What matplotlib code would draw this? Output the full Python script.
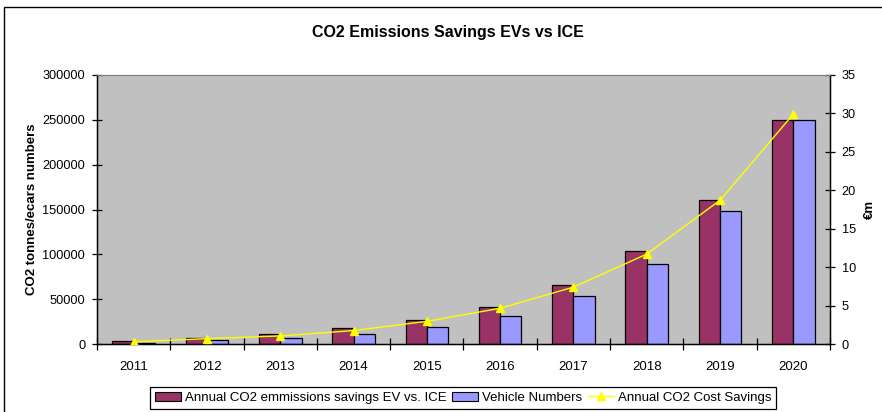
import matplotlib.pyplot as plt
import numpy as np
from matplotlib.patches import Rectangle
from matplotlib.lines import Line2D

plt.rcParams['font.family'] = ['Liberation Sans', 'DejaVu Sans']

years = ["2011", "2012", "2013", "2014", "2015", "2016", "2017", "2018", "2019", "2020"]
co2_savings = [3000, 6700, 10800, 17500, 26500, 41700, 65600, 103200, 161000, 250000]
vehicles = [1100, 4500, 6700, 11600, 19400, 31700, 53300, 88700, 148700, 250000]
cost_savings = [0.3, 0.7, 1.05, 1.75, 2.95, 4.65, 7.4, 11.7, 18.7, 29.9]

red = "#993366"
blue = "#9999FF"
yellow = "#FFFF00"

fig = plt.figure(figsize=(8.82, 4.12), dpi=100)
ax = fig.add_axes([0.110, 0.165, 0.831, 0.653])
ax.set_facecolor("#C0C0C0")

x = np.arange(len(years))
w = 0.29
ax.bar(x - w / 2, co2_savings, w, color=red, edgecolor="black", linewidth=0.9, zorder=2)
ax.bar(x + w / 2, vehicles, w, color=blue, edgecolor="black", linewidth=0.9, zorder=2)
ax.set_xlim(-0.5, len(years) - 0.5)
ax.set_ylim(0, 300000)
ax.set_yticks(range(0, 300001, 50000))
ax.set_ylabel("CO2 tonnes/ecars numbers", fontsize=9.5, fontweight="bold", labelpad=3)

ax.set_xticks(x)
ax.set_xticklabels(years)
ax.set_xticks(np.arange(-0.5, len(years)), minor=True)
ax.tick_params(axis="x", which="major", length=0, labelsize=9.5, pad=12)
ax.tick_params(axis="x", which="minor", direction="inout", length=8, width=0.9)
ax.tick_params(axis="y", direction="inout", length=7, labelsize=9.2, width=0.9, pad=5)

for side in ["left", "bottom", "right"]:
    ax.spines[side].set_color("black")
    ax.spines[side].set_linewidth(1.0)
ax.spines["top"].set_color("#808080")

ax2 = ax.twinx()
ax2.plot(x, cost_savings, color=yellow, marker="^", markersize=6, linewidth=1.0, zorder=3)
ax2.set_ylim(0, 35)
ax2.set_yticks(range(0, 36, 5))
ax2.tick_params(axis="y", direction="inout", length=7, labelsize=9.2, width=0.9, pad=5)
ax2.set_ylabel("€m", fontsize=9.5, fontweight="bold", labelpad=6)
ax2.spines["right"].set_color("black")
ax2.spines["top"].set_color("#808080")

fig.text(0.508, 0.92, "CO2 Emissions Savings EVs vs ICE", ha="center", va="center",
         fontsize=11.5, fontweight="bold")

handles = [
    Rectangle((0, 0), 1, 1, facecolor=red, edgecolor="black", linewidth=0.8),
    Rectangle((0, 0), 1, 1, facecolor=blue, edgecolor="black", linewidth=0.8),
    Line2D([], [], color=yellow, marker="^", markersize=6, linewidth=1.0),
]
labels = ["Annual CO2 emmissions savings EV vs. ICE", "Vehicle Numbers", "Annual CO2 Cost Savings"]
leg = fig.legend(handles, labels, loc="center", bbox_to_anchor=(0.525, 0.034), ncol=3,
                 fontsize=9.5, frameon=True, fancybox=False, edgecolor="black",
                 handlelength=2.0, handletextpad=0.3, columnspacing=0.4,
                 borderpad=0.35, framealpha=1)
leg.get_frame().set_linewidth(0.9)

fig.patches.append(Rectangle((4 / 882, -0.1), 1.0, 1 - 7 / 412 + 0.1, transform=fig.transFigure,
                             fill=False, edgecolor="black", linewidth=1.0))

fig.savefig("out.png", dpi=100)
